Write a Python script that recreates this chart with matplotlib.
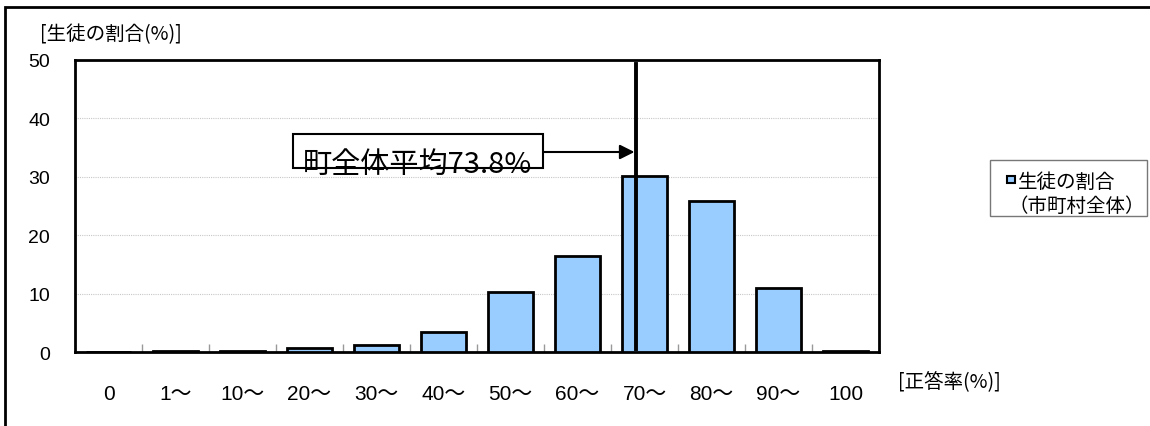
import matplotlib
matplotlib.use("Agg")
import matplotlib.pyplot as plt
from matplotlib.patches import Rectangle

plt.rcParams['font.family'] = ['Liberation Sans', 'Noto Sans CJK JP', 'DejaVu Sans']
CJK = ['Noto Sans CJK JP', 'DejaVu Sans']

categories = ["0", "1～", "10～", "20～", "30～", "40～", "50～", "60～", "70～", "80～", "90～", "100"]
shares = [0.0, 0.2, 0.2, 0.6, 1.2, 3.5, 10.3, 16.4, 30.2, 25.9, 10.9, 0.2]
town_average = 73.8
y_ticks = [0, 10, 20, 30, 40, 50]

W, H = 1150, 427
fig = plt.figure(figsize=(W / 100, H / 100), dpi=100)
ax = fig.add_axes([75 / W, 1 - 353 / H, 804 / W, 292 / H])

x = list(range(len(categories)))
ax.bar(x, shares, width=0.66, color="#99ccff", edgecolor="black", linewidth=2, zorder=3)

ax.set_xlim(-0.5, len(categories) - 0.5)
ax.set_ylim(0, 50)
ax.set_yticks(y_ticks)
ax.set_yticklabels([str(v) for v in y_ticks], fontsize=14)
ax.set_xticks(x)
ax.set_xticklabels(categories, fontsize=15)
ax.tick_params(axis='y', length=0, pad=18)
ax.tick_params(axis='x', which='major', length=0, pad=23)
ax.set_xticks([i - 0.5 for i in range(1, len(categories))], minor=True)
ax.tick_params(axis='x', which='minor', direction='in', length=6, color='#999999', width=1)
ax.grid(axis='y', color='#c8c8c8', linestyle=(0, (1, 1)), linewidth=0.8, zorder=0)
for s in ax.spines.values():
    s.set_linewidth(2)
    s.set_color('black')

# vertical line marking the town-wide average inside the 70～ bin
avg_pos = 8 + (town_average - 70) / 10 - 0.5
ax.plot([avg_pos, avg_pos], [0.5, 49.3], color='black', linewidth=2.8, zorder=5)

# annotation box with arrow pointing at the average line
box_left, box_w = (293 - 75) / 67 - 0.5, 250 / 67
box_bottom, box_h = (353 - 169) / 5.84, 34 / 5.84
arrow_y = (353 - 153) / 5.84
ax.annotate("", xy=(avg_pos - 0.03, arrow_y), xytext=(box_left + box_w, arrow_y),
            arrowprops=dict(arrowstyle='-|>', color='black', lw=1.5, mutation_scale=22,
                            shrinkA=0, shrinkB=0),
            zorder=6)
box = Rectangle((box_left, box_bottom), box_w, box_h, facecolor='white',
                edgecolor='black', linewidth=1.5, zorder=6)
ax.add_patch(box)
t = ax.text(box_left + 0.15, box_bottom - 1.8, "町全体平均73.8%", fontsize=21,
            family=CJK, ha='left', va='bottom', zorder=7)
t.set_clip_path(box)

# legend drawn as a framed box on the right
fig.patches.append(Rectangle((990 / W, 1 - 217 / H), 157 / W, 56 / H, transform=fig.transFigure,
                             facecolor='white', edgecolor='#777777', linewidth=1))
fig.patches.append(Rectangle((1007 / W, 1 - 184 / H), 8 / W, 7 / H, transform=fig.transFigure,
                             facecolor='#99ccff', edgecolor='black', linewidth=1.5))
fig.text(1018 / W, 1 - 182 / H, "生徒の割合", fontsize=14, family=CJK, ha='left', va='center')
fig.text(1008 / W, 1 - 206 / H, "（市町村全体）", fontsize=14, family=CJK, ha='left', va='center')

fig.text(40 / W, 1 - 35 / H, "[生徒の割合(%)]", fontsize=14, family=CJK, ha='left', va='center')
fig.text(898 / W, 1 - 383 / H, "[正答率(%)]", fontsize=14, family=CJK, ha='left', va='center')

# outer chart frame
fig.patches.append(Rectangle((5 / W, -0.1), 1.2, 1 - 8 / H + 0.1,
                             transform=fig.transFigure, fill=False,
                             edgecolor='black', linewidth=2))

fig.savefig("out.png", dpi=100)
